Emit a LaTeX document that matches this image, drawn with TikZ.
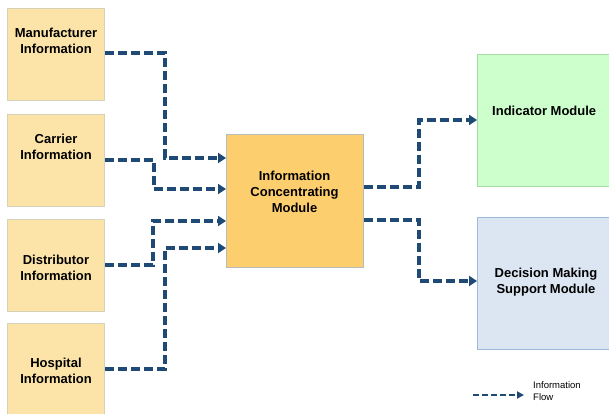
\documentclass[tikz,border=0pt]{standalone}
\usepackage{fontspec}
\setmainfont{Liberation Sans}
\usetikzlibrary{arrows.meta}
\definecolor{srcfill}{HTML}{FCE4A8}
\definecolor{srcedge}{HTML}{D6D2B8}
\definecolor{hubfill}{HTML}{FDCE6E}
\definecolor{hubedge}{HTML}{B8BCB4}
\definecolor{indfill}{HTML}{CCFFCC}
\definecolor{indedge}{HTML}{A8DCA4}
\definecolor{decfill}{HTML}{DCE6F2}
\definecolor{decedge}{HTML}{9DBBD9}
\definecolor{flowblue}{HTML}{1F4A75}
\tikzset{
  box/.style={rectangle, draw, line width=1.3pt, anchor=north west, inner sep=0pt},
  srcbox/.style={box, fill=srcfill, draw=srcedge, minimum width=97pt, minimum height=92pt},
  lbl/.style={align=center, font=\bfseries\fontsize{13}{16}\selectfont, inner sep=0pt},
  flow/.style={draw=flowblue, line width=3.3pt, dash pattern=on 9pt off 4pt,
    -{Triangle[length=8pt,width=10pt]}},
  legflow/.style={draw=flowblue, line width=2.2pt, dash pattern=on 6pt off 3pt,
    -{Triangle[length=7pt,width=7pt]}}
}
\begin{document}
\begin{tikzpicture}[x=1pt,y={(0pt,-1pt)}]
\clip (0,0) rectangle (609,414);
\fill[white] (0,0) rectangle (609,414);

% information sources
\node[srcbox] (man) at (7,8) {};
\node[srcbox] (car) at (7,114) {};
\node[srcbox] (dis) at (7,219) {};
\node[srcbox, minimum height=98pt] (hos) at (7,323) {};
\node[lbl] (man-t) at (56,41) {Manufacturer\\Information};
\node[lbl] (car-t) at (56,147) {Carrier\\Information};
\node[lbl] (dis-t) at (56,268) {Distributor\\Information};
\node[lbl] (hos-t) at (56,371) {Hospital\\Information};

% central module
\node[box, fill=hubfill, draw=hubedge, minimum width=137pt, minimum height=133pt] (hub) at (226,134) {};
\node[lbl] (hub-t) at (294.5,192) {Information\\Concentrating\\Module};

% output modules
\node[box, fill=indfill, draw=indedge, minimum width=140pt, minimum height=132pt] (ind) at (477,54) {};
\node[lbl, anchor=west] (ind-t) at (492,111) {Indicator Module};
\node[box, fill=decfill, draw=decedge, minimum width=140pt, minimum height=132pt] (dec) at (477,217) {};
\node[lbl] (dec-t) at (546,282) {Decision Making\\Support Module};

% flows into the central module
\coordinate (in1) at (hub.west |- 0,158);
\coordinate (in2) at (hub.west |- 0,189);
\coordinate (in3) at (hub.west |- 0,221);
\coordinate (in4) at (hub.west |- 0,248);
\draw[flow] (man.east |- 0,53) -- (165,53) |- (in1);
\draw[flow] (car.east |- 0,160) -- (154,160) |- (in2);
\draw[flow] (dis.east |- 0,265) -- (153,265) |- (in3);
\draw[flow] (hos.east |- 0,369) -- (165,369) |- (in4);

% flows out of the central module
\coordinate (out1) at (hub.east |- 0,187);
\coordinate (out2) at (hub.east |- 0,220);
\draw[flow] (out1) -- (419,187) |- (ind.west |- 0,120);
\draw[flow] (out2) -- (419,220) |- (dec.west |- 0,281);

% legend
\coordinate (leg-a) at (473,395);
\coordinate (leg-b) at (524,395);
\draw[legflow] (leg-a) -- (leg-b);
\node[anchor=west, align=left, font=\fontsize{9.5}{12.5}\selectfont, inner sep=0pt] (leg-t) at (533,391) {Information\\Flow};
\end{tikzpicture}
\end{document}
